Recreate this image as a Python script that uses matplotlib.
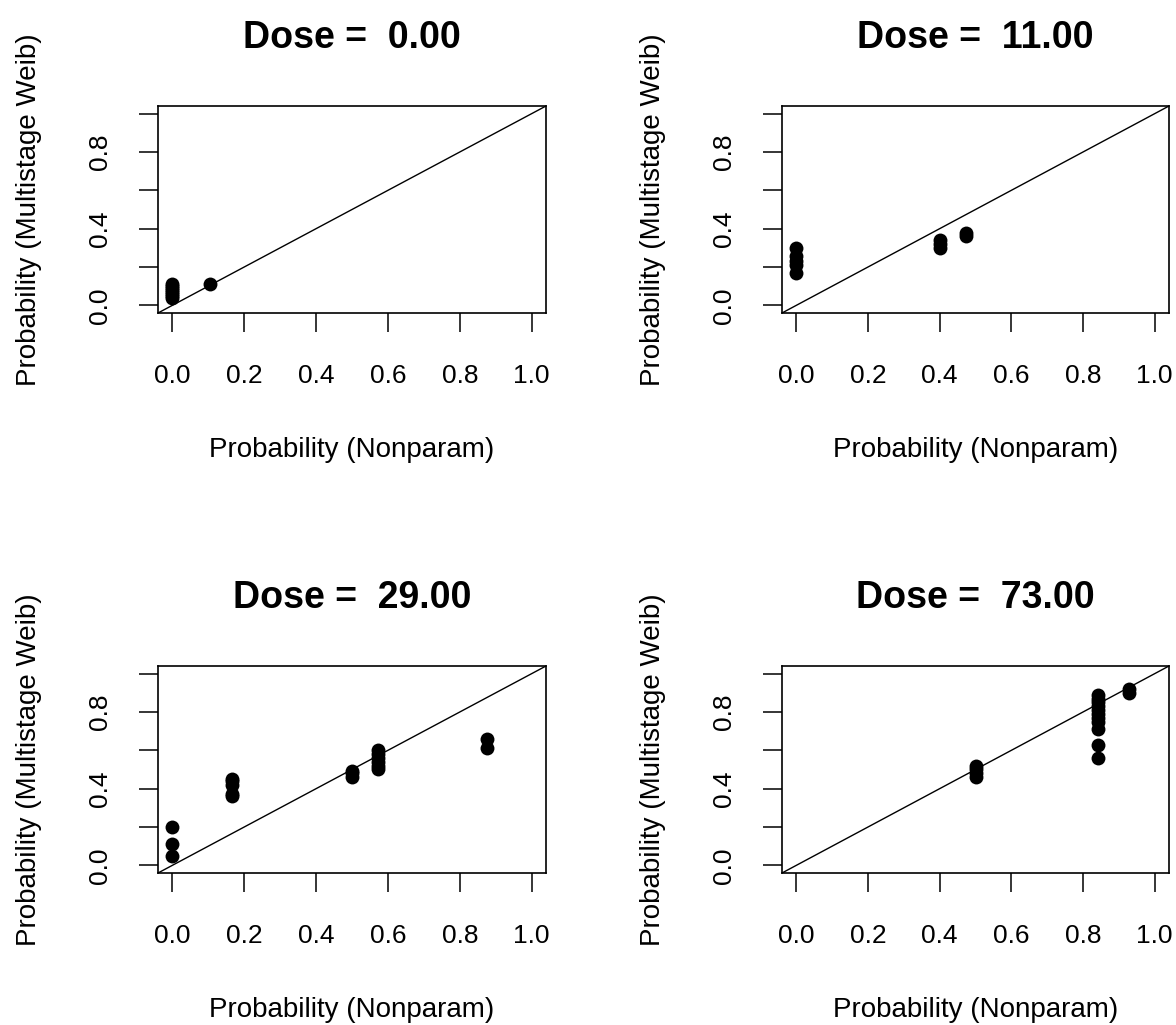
import matplotlib
matplotlib.use("Agg")
import matplotlib.pyplot as plt

plt.rcParams['font.family'] = ['Liberation Sans', 'DejaVu Sans']

# Dose groups and (nonparametric, multistage Weibull) probability pairs
doses = [0.00, 11.00, 29.00, 73.00]

dose0_x = [0.0, 0.0, 0.0, 0.0, 0.0, 0.0, 0.0, 0.0, 0.105]
dose0_y = [0.04, 0.05, 0.06, 0.07, 0.08, 0.09, 0.10, 0.11, 0.11]

dose11_x = [0.0, 0.0, 0.0, 0.0, 0.0, 0.40, 0.40, 0.40, 0.473, 0.473]
dose11_y = [0.17, 0.21, 0.23, 0.26, 0.30, 0.30, 0.32, 0.34, 0.36, 0.38]

dose29_x = [0.0, 0.0, 0.0,
            0.167, 0.167, 0.167, 0.167, 0.167,
            0.50, 0.50, 0.50,
            0.571, 0.571, 0.571, 0.571, 0.571, 0.571,
            0.875, 0.875]
dose29_y = [0.05, 0.11, 0.20,
            0.36, 0.37, 0.42, 0.44, 0.45,
            0.46, 0.48, 0.49,
            0.50, 0.52, 0.54, 0.56, 0.58, 0.60,
            0.61, 0.66]

dose73_x = [0.50, 0.50, 0.50, 0.50,
            0.843, 0.843, 0.843, 0.843, 0.843, 0.843, 0.843, 0.843, 0.843, 0.843, 0.843,
            0.928, 0.928]
dose73_y = [0.46, 0.48, 0.50, 0.52,
            0.56, 0.63, 0.71, 0.75, 0.77, 0.79, 0.81, 0.83, 0.85, 0.87, 0.89,
            0.90, 0.92]

series_x = [dose0_x, dose11_x, dose29_x, dose73_x]
series_y = [dose0_y, dose11_y, dose29_y, dose73_y]

x_ticks = [0.0, 0.2, 0.4, 0.6, 0.8, 1.0]
x_ticklabels = ['0.0', '0.2', '0.4', '0.6', '0.8', '1.0']
y_ticks = [0.0, 0.2, 0.4, 0.6, 0.8, 1.0]
y_ticklabels = ['0.0', '', '0.4', '', '0.8', '']

W, H = 1176, 1025
fig = plt.figure(figsize=(W / 100, H / 100), dpi=100)

# panel boxes in pixels: (left, top, right, bottom)
boxes = [(158, 106, 546, 313), (782, 106, 1169, 313),
         (158, 666, 546, 873), (782, 666, 1169, 873)]

for i, (l, t, r, b) in enumerate(boxes):
    ax = fig.add_axes([l / W, 1 - b / H, (r - l) / W, (b - t) / H])
    ax.plot(series_x[i], series_y[i], 'o', color='black', markersize=10,
            markeredgewidth=0, zorder=3)
    ax.axline((0, 0), slope=1, color='black', lw=1.0, zorder=2)
    ax.set_xlim(-0.04, 1.04)
    ax.set_ylim(-0.04, 1.04)
    ax.set_xticks(x_ticks)
    ax.set_xticklabels(x_ticklabels)
    ax.set_yticks(y_ticks)
    ax.set_yticklabels(y_ticklabels, rotation=90, va='center')
    ax.tick_params(axis='both', length=14, width=1.1, labelsize=19,
                   colors='black')
    ax.tick_params(axis='x', pad=23)
    ax.tick_params(axis='y', pad=19)
    for s in ax.spines.values():
        s.set_linewidth(1.2)
    ax.set_xlabel('Probability (Nonparam)', fontsize=20, labelpad=35)
    ax.set_ylabel('Probability (Multistage Weib)', fontsize=20, labelpad=33)
    ax.set_title(f'Dose =  {doses[i]:.2f}', fontsize=27, fontweight='bold',
                 pad=42)

fig.savefig('out.png', dpi=100, facecolor='white')
